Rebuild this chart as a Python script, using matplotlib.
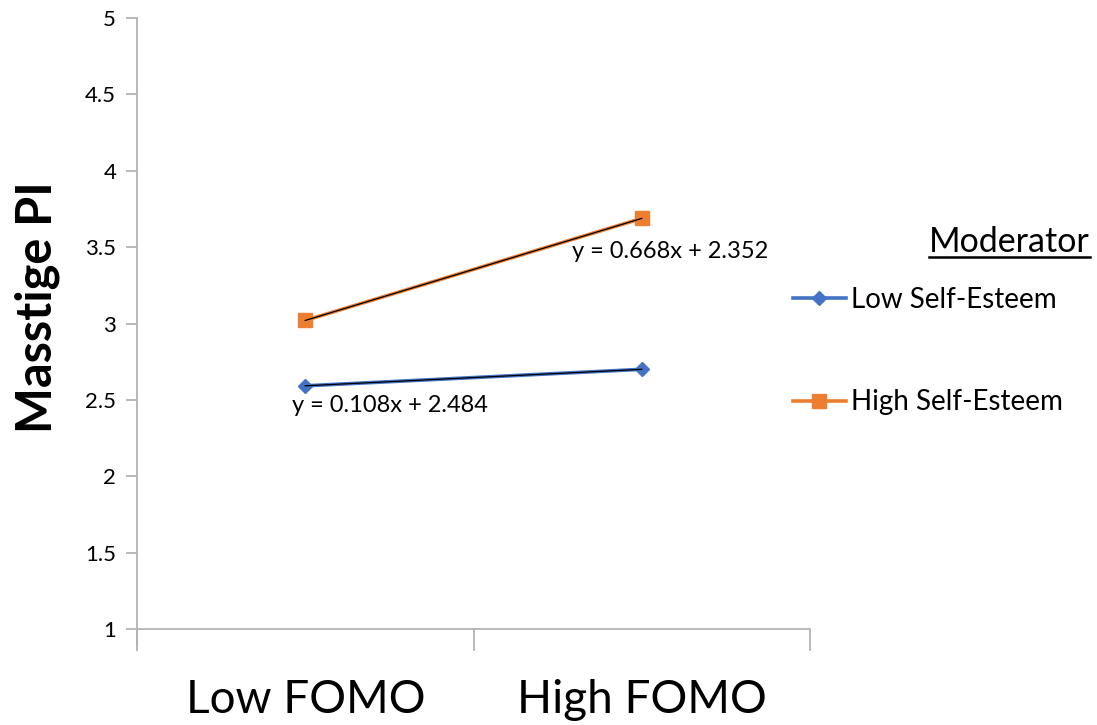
import numpy as np
import matplotlib
matplotlib.use("Agg")
import matplotlib.pyplot as plt
from matplotlib.lines import Line2D

# ____Data_____
categories = ["Low FOMO", "High FOMO"]
series_names = ["Low Self-Esteem", "High Self-Esteem"]
low_se = [2.592, 2.700]
high_se = [3.020, 3.688]
y_ticks = [1, 1.5, 2, 2.5, 3, 3.5, 4, 4.5, 5]
y_tick_labels = ["1", "1.5", "2", "2.5", "3", "3.5", "4", "4.5", "5"]

blue = "#4472C4"
orange = "#ED7D31"
axis_grey = "#B3B3B3"

plt.rcParams['font.family'] = ['Lato', 'DejaVu Sans']

fig = plt.figure(figsize=(10.97, 7.25), dpi=100)
ax = fig.add_axes([137 / 1097, 96 / 725, 673 / 1097, 611 / 725])

x = np.arange(len(categories)) + 0.5  # categories centred between boundary ticks

ax.plot(x, low_se, color=blue, lw=2.6, marker='D', ms=7.2,
        markeredgecolor=blue, label=series_names[0], zorder=3)
ax.plot(x, high_se, color=orange, lw=2.6, marker='s', ms=9.5,
        markeredgecolor=orange, label=series_names[1], zorder=3)

# Linear trendlines (x = 1, 2 as in Excel)
xi = np.arange(1, len(categories) + 1)
for vals in (low_se, high_se):
    slope, icpt = np.polyfit(xi, vals, 1)
    ax.plot(x, slope * xi + icpt, color='black', lw=0.9, zorder=4)

# Trendline equations
ax.text(0.752, 2.462, "y = 0.108x + 2.484", fontsize=17, ha='center', va='center')
ax.text(1.584, 3.47, "y = 0.668x + 2.352", fontsize=17, ha='center', va='center')

ax.set_xlim(0, 2)
ax.set_ylim(1, 5)
ax.set_yticks(y_ticks)
ax.set_yticklabels(y_tick_labels, fontsize=16)
ax.set_xticks([0, 1, 2])
ax.set_xticklabels([])
ax.set_xticks(x, minor=True)
ax.set_xticklabels(categories, minor=True, fontsize=33)
ax.tick_params(axis='x', which='minor', length=0, pad=36)
ax.tick_params(axis='x', which='major', length=16, width=1.3, color=axis_grey)
ax.tick_params(axis='y', length=8, width=1.3, color=axis_grey, pad=7)

for side in ('top', 'right'):
    ax.spines[side].set_visible(False)
for side in ('left', 'bottom'):
    ax.spines[side].set_color(axis_grey)
    ax.spines[side].set_linewidth(1.3)
ax.spines['left'].set_bounds(1, 5)
# extend left spine below the axis like Excel
ax.plot([0, 0], [1, 1 - 16 / 152.75], color=axis_grey, lw=1.3, clip_on=False)

ax.set_ylabel("Masstige PI", fontsize=35, fontweight='bold', labelpad=18)
ax.yaxis.label.set_y(0.527)

# Legend
leg = ax.legend(loc='upper left', bbox_to_anchor=(793 / 1097, 1 - 287 / 725),
                bbox_transform=fig.transFigure, frameon=False, fontsize=20,
                labelspacing=2.75, handlelength=1.9, handletextpad=0.2,
                borderpad=0, borderaxespad=0)

t = fig.text(1090 / 1097, 1 - 242 / 725, "Moderator", fontsize=24.5,
             ha='right', va='center')
fig.canvas.draw()
bb = t.get_window_extent().transformed(fig.transFigure.inverted())
fig.add_artist(Line2D([bb.x0, bb.x1], [bb.y0 + 0.002, bb.y0 + 0.002],
                      color='black', lw=1.8, transform=fig.transFigure))

fig.savefig("out.png", dpi=100)
